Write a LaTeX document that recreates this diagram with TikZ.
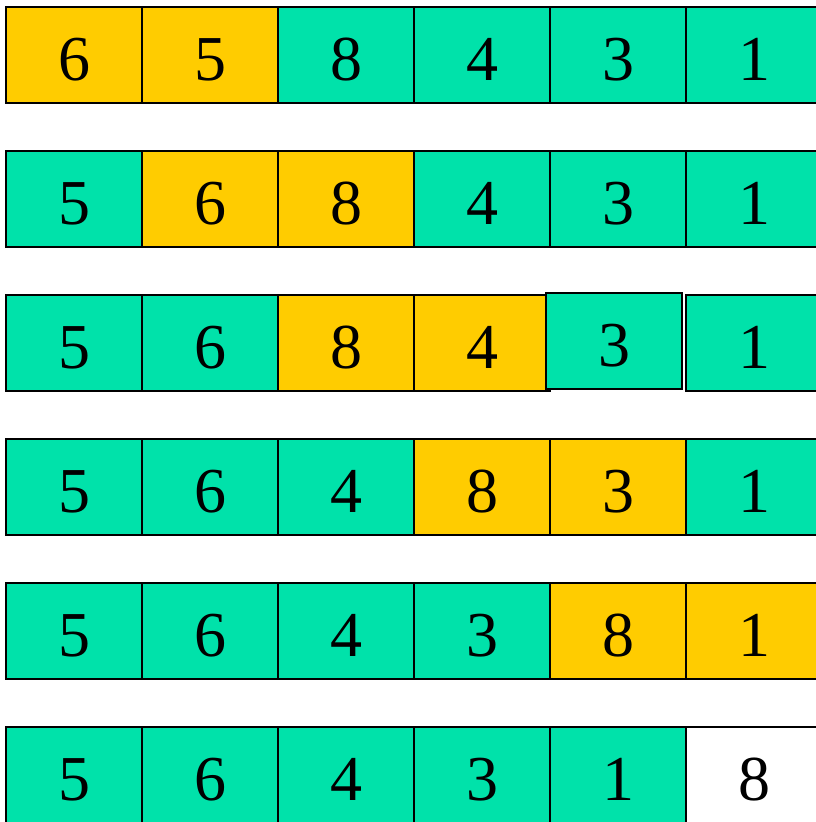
\documentclass[tikz,border=0pt]{standalone}
\usepackage{fontspec}
\setmainfont{Liberation Serif}
\definecolor{cellY}{RGB}{255,204,0}
\definecolor{cellG}{RGB}{0,226,170}
\tikzset{
  cell/.style={draw=black, line width=1.6pt, minimum width=136pt, minimum height=96pt,
    inner sep=0pt, text height=50pt, text depth=0pt,
    font=\fontsize{64}{64}\selectfont},
  Y/.style={cell, fill=cellY},
  G/.style={cell, fill=cellG},
  W/.style={cell, fill=white},
}
\begin{document}
\begin{tikzpicture}[x=1pt,y=-1pt]
\useasboundingbox (0,0) rectangle (816,822);
\clip (0,0) rectangle (816,822);
\fill[white] (0,0) rectangle (816,822);
\foreach \r/\row in {1/{6/Y,5/Y,8/G,4/G,3/G,1/G},
                     2/{5/G,6/Y,8/Y,4/G,3/G,1/G},
                     4/{5/G,6/G,4/G,8/Y,3/Y,1/G},
                     5/{5/G,6/G,4/G,3/G,8/Y,1/Y},
                     6/{5/G,6/G,4/G,3/G,1/G,8/W}}{
  \foreach \v/\s [count=\c] in \row {
    \node[\s] (r\r c\c) at ({74+136*(\c-1)},{55+144*(\r-1)}) {\v};
  }
}
% row 3 (the "3" box is slightly displaced)
\node[G] (r3c1) at (74,343) {5};
\node[G] (r3c2) at (210,343) {6};
\node[Y] (r3c3) at (346,343) {8};
\node[Y] (r3c4) at (482,343) {4};
\node[G] (r3c6) at (754,343) {1};
\node[G] (r3c5) at (614,341) {3};
\end{tikzpicture}
\end{document}
